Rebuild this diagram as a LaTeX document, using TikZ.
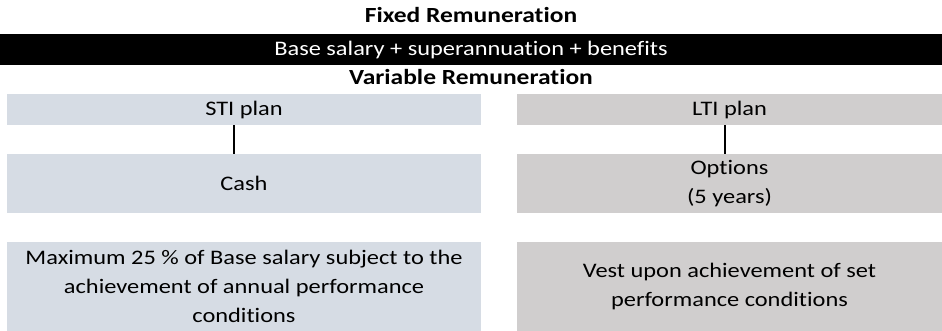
\documentclass[tikz,border=0pt]{standalone}
\usepackage{fontspec}
\setmainfont[FakeStretch=1.18, Ligatures=NoCommon]{Carlito}
\definecolor{stiblue}{HTML}{D6DCE4}
\definecolor{ltigray}{HTML}{D0CECE}

\begin{document}
\begin{tikzpicture}[x=0.75pt, y=-0.75pt,
  head/.style={font=\fontsize{16.2}{18}\selectfont\bfseries, inner sep=0pt},
  cell/.style={rectangle, inner sep=0pt, align=center,
    font=\fontsize{15.5}{21.75}\selectfont},
  sti/.style={cell, fill=stiblue, minimum width=355.5pt},
  lti/.style={cell, fill=ltigray, minimum width=318.75pt},
  link/.style={line width=1.5pt}]
\useasboundingbox (0,0) rectangle (942,331);

% ---------- fixed part
\node[head] (fixed) at (471,15) {Fixed Remuneration};
\node[cell, fill=black, text=white, minimum width=706.5pt,
  minimum height=23.25pt] (base) at (471,49.5)
  {Base salary + superannuation + benefits};

% ---------- variable part
\node[head] (variable) at (471,77.5) {Variable Remuneration};

\node[sti, minimum height=23.25pt] (stiplan) at (244,109.5) {STI plan};
\node[sti, minimum height=44.25pt] (cash) at (244,183.5) {Cash};
\node[sti, minimum height=66.75pt] (stiterms) at (244,286.5)
  {Maximum 25 \% of Base salary subject to the\\
   achievement of annual performance\\ conditions};

\node[lti, minimum height=23.25pt] (ltiplan) at (729.5,109.5) {LTI plan};
\node[lti, minimum height=44.25pt] (options) at (729.5,183.5)
  {Options\\ (5 years)};
\node[lti, minimum height=66.75pt] (ltiterms) at (729.5,286.5)
  {Vest upon achievement of set\\ performance conditions};

% plan -> instrument
\draw[link] ([xshift=-7.5pt]stiplan.south) -- ([xshift=-7.5pt]stiplan.south |- cash.north);
\draw[link] ([xshift=-3.4pt]ltiplan.south) -- ([xshift=-3.4pt]ltiplan.south |- options.north);
\end{tikzpicture}
\end{document}
